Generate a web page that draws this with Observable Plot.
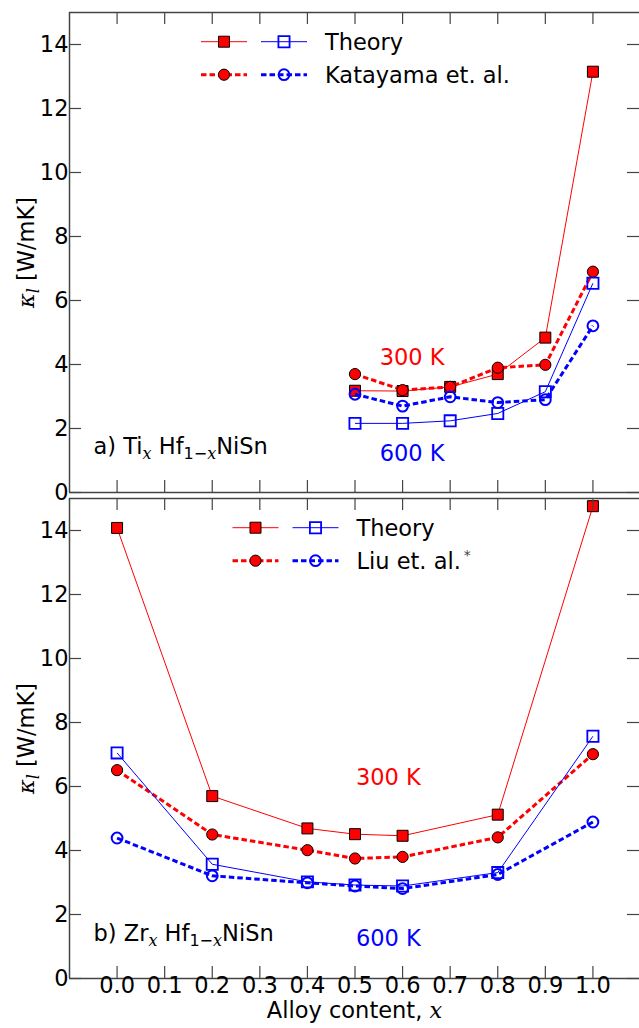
<!DOCTYPE html>
<html><head><meta charset="utf-8">
<script src="https://cdn.jsdelivr.net/npm/d3@7"></script>
<script src="https://cdn.jsdelivr.net/npm/@observablehq/plot@0.6"></script>
<style>
html,body{margin:0;padding:0;background:#fff;overflow:hidden}
#wrap{position:relative;width:639px;height:1028px;font-family:"DejaVu Sans",sans-serif}
#wrap svg{position:absolute;left:0;overflow:visible}
</style></head><body><div id="wrap"></div>
<script>
// ---- data ----
const xTi = [0.5, 0.6, 0.7, 0.8, 0.9, 1.0];
const tiTheory300 = [3.18, 3.17, 3.30, 3.70, 4.84, 13.15];
const tiKatayama300 = [3.70, 3.20, 3.30, 3.90, 3.99, 6.90];
const tiTheory600 = [2.16, 2.16, 2.24, 2.47, 3.15, 6.54];
const tiKatayama600 = [3.07, 2.70, 2.99, 2.81, 2.90, 5.21];

const xZr = [0.0, 0.2, 0.4, 0.5, 0.6, 0.8, 1.0];
const zrTheory300 = [14.08, 5.70, 4.69, 4.51, 4.46, 5.12, 14.76];
const zrLiu300 = [6.51, 4.50, 4.01, 3.75, 3.80, 4.41, 7.01];
const zrTheory600 = [7.05, 3.57, 3.02, 2.92, 2.89, 3.31, 7.57];
const zrLiu600 = [4.39, 3.21, 2.99, 2.89, 2.81, 3.25, 4.89];

const xTicks = [0.0, 0.1, 0.2, 0.3, 0.4, 0.5, 0.6, 0.7, 0.8, 0.9, 1.0];
const yTicks = [0, 2, 4, 6, 8, 10, 12, 14];
const xDomain = [-0.1, 1.1];
const yDomain = [0, 15];

const tempLabels = ["300 K", "600 K"];
const tempColors = ["#ff0000", "#0000ff"];
const tiTempX = [0.62, 0.62], tiTempY = [4.22, 1.22];
const zrTempX = [0.57, 0.57], zrTempY = [6.26, 1.23];

const yLabel = "κl [W/mK]";
const xLabel = "Alloy content, x";
const panelA = "a) TixHf1−xNiSn";
const panelB = "b) ZrxHf1−xNiSn";
const legendTop = ["Theory", "Katayama et. al."];
const legendBottom = ["Theory", "Liu et. al.*"];

// ---- styles ----
const FS = 22.5, SUBFS = 16;
const RED = "#ff0000", BLUE = "#0000ff", AX = "#444";
const styleTheory300 = {stroke: RED, strokeWidth: 1, symbol: "square", fill: RED, mstroke: "#000", mw: 1, r: 6.2};
const styleExp300 = {stroke: RED, strokeWidth: 3, dash: "5.5,3", symbol: "circle", fill: RED, mstroke: "#000", mw: 1, r: 5.6};
const styleTheory600 = {stroke: BLUE, strokeWidth: 1, symbol: "square", fill: "none", mstroke: BLUE, mw: 1.8, r: 6.3};
const styleExp600 = {stroke: BLUE, strokeWidth: 3, dash: "5.5,3", symbol: "circle", fill: "none", mstroke: BLUE, mw: 2, r: 5.4};

const rows = (xs, ys) => xs.map((x, i) => ({x, y: ys[i]}));

function seriesMarks(xs, ys, s) {
  const data = rows(xs, ys);
  return [
    Plot.line(data, {x: "x", y: "y", stroke: s.stroke, strokeWidth: s.strokeWidth, strokeDasharray: s.dash, strokeLinecap: "butt"}),
    Plot.dot(data, {x: "x", y: "y", symbol: s.symbol, r: s.r, fill: s.fill, stroke: s.mstroke, strokeWidth: s.mw})
  ];
}

const W = 639, ML = 69;
function panel({xs, series, height, marginTop, marginBottom, showX, tx, ty, label, labelDy}) {
  const ph = height - marginTop - marginBottom;
  const pw = W - ML;
  const marks = [];
  series.forEach(([ys, s]) => marks.push(...seriesMarks(xs, ys, s)));
  // spines
  marks.push(Plot.ruleY([yDomain[0], yDomain[1]], {y: d => d, stroke: AX, strokeWidth: 1.5}));
  marks.push(Plot.ruleX([xDomain[0]], {x: d => d, stroke: AX, strokeWidth: 1.5}));
  // inward ticks
  marks.push(Plot.ruleX(xTicks, {x: d => d, insetBottom: ph - 12, stroke: AX, strokeWidth: 1.2}));
  marks.push(Plot.ruleX(xTicks, {x: d => d, insetTop: ph - 12, stroke: AX, strokeWidth: 1.2}));
  marks.push(Plot.ruleY(yTicks, {y: d => d, insetRight: pw - 12, stroke: AX, strokeWidth: 1.2}));
  marks.push(Plot.ruleY(yTicks, {y: d => d, insetLeft: pw - 12, stroke: AX, strokeWidth: 1.2}));
  // tick labels
  marks.push(Plot.text(yTicks, {y: d => d, frameAnchor: "left", textAnchor: "end", dx: -1, text: d => String(d), fontSize: FS, fill: "#000"}));
  if (showX) {
    marks.push(Plot.text(xTicks, {x: d => d, frameAnchor: "bottom", dy: 14, text: d => d.toFixed(1), fontSize: FS, fill: "#000"}));
    marks.push(Plot.text([xLabel], {frameAnchor: "bottom", dy: 39, text: d => d, fontSize: FS, fill: "#000"}));
  }
  marks.push(Plot.text([yLabel], {frameAnchor: "left", textAnchor: "middle", dx: -43, rotate: -90, text: d => d, fontSize: FS, fill: "#000"}));
  // temperature annotations
  marks.push(Plot.text(tempLabels, {x: (d, i) => tx[i], y: (d, i) => ty[i], text: d => d, fill: (d, i) => tempColors[i], fontSize: FS}));
  // panel label
  marks.push(Plot.text([label], {frameAnchor: "bottom-left", dx: 24, dy: labelDy, textAnchor: "start", text: d => d, fontSize: FS, fill: "#000"}));

  return Plot.plot({
    width: W, height, marginLeft: ML, marginRight: 0, marginTop, marginBottom,
    x: {domain: xDomain, range: [ML, 640], axis: null},
    y: {domain: yDomain, axis: null},
    style: {fontFamily: "DejaVu Sans", fontSize: FS + "px", background: "transparent", overflow: "visible"},
    marks
  });
}

// rich text (sub/superscripts)
const IT = "DejaVu Serif";
const RICH = {
  [yLabel]: [{t: "κ", it: true}, {t: "l", it: true, sub: true}, {t: " [W/mK]"}],
  [xLabel]: [{t: "Alloy content, "}, {t: "x", it: true}],
  [panelA]: [{t: "a) Ti"}, {t: "x", it: true, sub: true}, {t: " Hf"}, {t: "1−", sub: true}, {t: "x", it: true, sub: true}, {t: "NiSn"}],
  [panelB]: [{t: "b) Zr"}, {t: "x", it: true, sub: true}, {t: " Hf"}, {t: "1−", sub: true}, {t: "x", it: true, sub: true}, {t: "NiSn"}]
};
function richify(svg) {
  d3.select(svg).selectAll("text").each(function () {
    const spec = RICH[this.textContent];
    if (!spec) return;
    const t = d3.select(this);
    t.text(null);
    let shift = 0;
    for (const p of spec) {
      const ts = t.append("tspan").text(p.t);
      const target = p.sub ? 5 : p.sup ? -9 : 0;
      if (target !== shift) ts.attr("dy", target - shift);
      shift = target;
      if (p.sub || p.sup) ts.attr("font-size", SUBFS);
      if (p.it) ts.attr("font-family", IT).attr("font-style", "italic");
    }
  });
}

const wrap = document.getElementById("wrap");

const bottomChart = panel({
  xs: xZr,
  series: [[zrTheory300, styleTheory300], [zrLiu300, styleExp300], [zrTheory600, styleTheory600], [zrLiu600, styleExp600]],
  height: 542, marginTop: 12, marginBottom: 50, showX: true,
  tx: zrTempX, ty: zrTempY, label: panelB, labelDy: -38
});
bottomChart.style.top = "486px";
richify(bottomChart);
wrap.appendChild(bottomChart);

const topChart = panel({
  xs: xTi,
  series: [[tiTheory300, styleTheory300], [tiKatayama300, styleExp300], [tiTheory600, styleTheory600], [tiKatayama600, styleExp600]],
  height: 500, marginTop: 12, marginBottom: 8, showX: false,
  tx: tiTempX, ty: tiTempY, label: panelA, labelDy: -39
});
topChart.style.top = "0px";
richify(topChart);
wrap.appendChild(topChart);

// legends (overlay)
const leg = d3.select(wrap).append("svg").attr("width", W).attr("height", 1028).style("top", "0px").style("pointer-events", "none");
function legend(x0, y0, labels) {
  const rowsDef = [[styleTheory300, styleTheory600], [styleExp300, styleExp600]];
  rowsDef.forEach((pair, ri) => {
    const y = y0 + ri * 33;
    pair.forEach((s, ci) => {
      const xa = x0 + ci * 60, xm = xa + 23;
      leg.append("line").attr("x1", xa).attr("x2", xa + 46).attr("y1", y).attr("y2", y)
        .attr("stroke", s.stroke).attr("stroke-width", s.strokeWidth).attr("stroke-dasharray", s.dash || null);
      leg.append("path").attr("transform", `translate(${xm},${y})`)
        .attr("d", d3.symbol(s.symbol === "square" ? d3.symbolSquare : d3.symbolCircle, Math.PI * s.r * s.r)())
        .attr("fill", s.fill).attr("stroke", s.mstroke).attr("stroke-width", s.mw);
    });
    const txt = leg.append("text").attr("x", x0 + 124).attr("y", y).attr("dy", "0.35em")
      .attr("font-family", "DejaVu Sans").attr("font-size", FS).attr("fill", "#000");
    const lab = labels[ri];
    if (lab.endsWith("*")) {
      txt.append("tspan").text(lab.slice(0, -1));
      txt.append("tspan").text("*").attr("font-size", 14).attr("dy", -9).attr("dx", 3).attr("fill", "#444");
    } else txt.text(lab);
  });
}
legend(201, 41.7, legendTop);
legend(232.5, 527.7, legendBottom);
</script></body></html>
